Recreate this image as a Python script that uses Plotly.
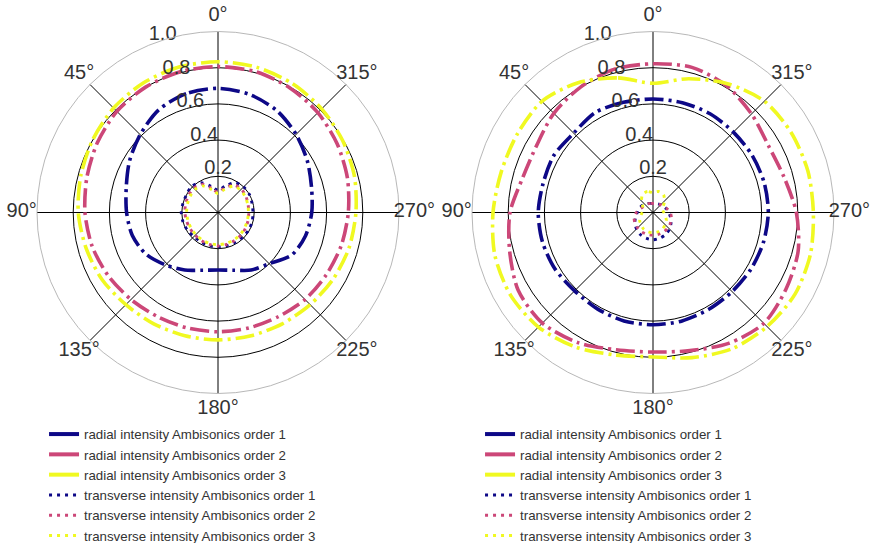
import plotly.graph_objects as go

# angles (deg) measured counter-clockwise from the top
angles = [0, 15, 30, 45, 60, 75, 90, 105, 120, 135, 150, 165,
          180, 195, 210, 225, 240, 255, 270, 285, 300, 315, 330, 345]

# ---- left panel ----
left_radial_o1 = [0.686, 0.68, 0.655, 0.608, 0.565, 0.525, 0.505, 0.49, 0.46, 0.41, 0.367, 0.33,
                  0.318, 0.33, 0.367, 0.40, 0.47, 0.50, 0.518, 0.535, 0.57, 0.61, 0.65, 0.675]
left_radial_o2 = [0.806, 0.805, 0.80, 0.79, 0.77, 0.75, 0.735, 0.72, 0.70, 0.68, 0.665, 0.66,
                  0.659, 0.66, 0.665, 0.68, 0.69, 0.705, 0.72, 0.74, 0.76, 0.78, 0.795, 0.805]
left_radial_o3 = [0.833, 0.832, 0.826, 0.816, 0.80, 0.785, 0.772, 0.755, 0.74, 0.72, 0.71, 0.705,
                  0.704, 0.705, 0.71, 0.72, 0.735, 0.75, 0.762, 0.78, 0.795, 0.81, 0.822, 0.83]
left_trans_o1 = [0.123, 0.15, 0.19, 0.205, 0.20, 0.20, 0.203, 0.20, 0.195, 0.188, 0.188, 0.19,
                 0.19, 0.19, 0.19, 0.193, 0.195, 0.195, 0.193, 0.195, 0.20, 0.20, 0.19, 0.15]
left_trans_o2 = [0.112, 0.14, 0.18, 0.19, 0.188, 0.185, 0.183, 0.18, 0.178, 0.178, 0.18, 0.183,
                 0.185, 0.183, 0.18, 0.178, 0.175, 0.172, 0.17, 0.172, 0.178, 0.182, 0.175, 0.14]
left_trans_o3 = [0.105, 0.13, 0.17, 0.18, 0.178, 0.175, 0.173, 0.172, 0.172, 0.173, 0.175, 0.177,
                 0.178, 0.177, 0.175, 0.173, 0.17, 0.168, 0.168, 0.17, 0.174, 0.176, 0.168, 0.13]

# ---- right panel ----
right_radial_o1 = [0.627, 0.63, 0.638, 0.62, 0.632, 0.628, 0.634, 0.632, 0.625, 0.612, 0.615, 0.62,
                   0.62, 0.62, 0.617, 0.618, 0.625, 0.632, 0.637, 0.636, 0.632, 0.628, 0.63, 0.628]
right_radial_o2 = [0.822, 0.82, 0.80, 0.775, 0.742, 0.745, 0.79, 0.82, 0.86, 0.864, 0.83, 0.785,
                   0.771, 0.79, 0.835, 0.866, 0.848, 0.83, 0.792, 0.75, 0.737, 0.77, 0.81, 0.83]
right_radial_o3 = [0.714, 0.77, 0.828, 0.868, 0.866, 0.868, 0.884, 0.905, 0.91, 0.895, 0.858, 0.815,
                   0.798, 0.83, 0.87, 0.891, 0.905, 0.90, 0.886, 0.886, 0.882, 0.87, 0.822, 0.765]
right_trans_o1 = [0.05, 0.052, 0.057, 0.064, 0.073, 0.08, 0.087, 0.10, 0.115, 0.129, 0.14, 0.147,
                  0.151, 0.147, 0.14, 0.129, 0.115, 0.10, 0.087, 0.077, 0.068, 0.06, 0.055, 0.051]
right_trans_o2 = [0.05, 0.052, 0.055, 0.058, 0.063, 0.075, 0.092, 0.108, 0.115, 0.12, 0.124, 0.125,
                  0.125, 0.124, 0.122, 0.118, 0.112, 0.105, 0.095, 0.08, 0.067, 0.06, 0.055, 0.052]
right_trans_o3 = [0.11, 0.12, 0.115, 0.09, 0.065, 0.055, 0.06, 0.07, 0.085, 0.095, 0.105, 0.11,
                  0.112, 0.11, 0.105, 0.095, 0.085, 0.07, 0.06, 0.055, 0.065, 0.09, 0.115, 0.12]

series_names = ["radial intensity Ambisonics order 1", "radial intensity Ambisonics order 2",
                "radial intensity Ambisonics order 3", "transverse intensity Ambisonics order 1",
                "transverse intensity Ambisonics order 2", "transverse intensity Ambisonics order 3"]
colors = ["#0d0887", "#cc4778", "#f0f921"]

angle_ticks = [0, 45, 90, 135, 180, 225, 270, 315]
angle_labels = ["0°", "45°", "90°", "135°", "180°", "225°", "270°", "315°"]
radial_ticks = [0.2, 0.4, 0.6, 0.8, 1.0]
radial_labels = ["0.2", "0.4", "0.6", "0.8", "1.0"]

# label placement (style constants)
ANGLE_LABEL_R = 1.085      # angular labels just outside the rim
RADIAL_LABEL_THETA = 22.5  # radial labels drawn along this direction
LABEL_RANGE = 1.1          # radial extent of the (invisible) label layer

DASHDOT = "19px,5px,3px,5px"
DOT = "3px,5px"
TXT = "#333333"
FONT = "Liberation Sans, Arial, sans-serif"

# panel geometry in pixels (figure 872 x 543)
W, H = 872, 543
PANEL_CX = [218, 653]
PANEL_CY = 212.5
RIM = 181

fig = go.Figure()

def close(v):
    return list(v) + [v[0]]

panels = [
    ("polar", "polar3", "legend", [left_radial_o1, left_radial_o2, left_radial_o3,
                                   left_trans_o1, left_trans_o2, left_trans_o3]),
    ("polar2", "polar4", "legend2", [right_radial_o1, right_radial_o2, right_radial_o3,
                                     right_trans_o1, right_trans_o2, right_trans_o3]),
]

th = close(angles)
for subplot, labsub, leg, data in panels:
    for i, vals in enumerate(data):
        col = colors[i % 3]
        radial = i < 3
        fig.add_trace(go.Scatterpolar(
            r=close(vals), theta=th, mode="lines", subplot=subplot,
            line=dict(color=col, width=3.6 if radial else 2.9,
                      dash=DASHDOT if radial else DOT, shape="spline", smoothing=0.8),
            showlegend=False, hoverinfo="skip"))
    # radial tick labels
    fig.add_trace(go.Scatterpolar(
        r=radial_ticks, theta=[RADIAL_LABEL_THETA] * len(radial_ticks), text=radial_labels,
        mode="text", textposition="top right", subplot=subplot, cliponaxis=False,
        textfont=dict(size=20, color=TXT, family=FONT), showlegend=False, hoverinfo="skip"))
    # angular tick labels (centered outside the rim, on an overlaid label layer)
    fig.add_trace(go.Scatterpolar(
        r=[ANGLE_LABEL_R] * len(angle_ticks), theta=angle_ticks, text=angle_labels,
        mode="text", textposition="middle center", subplot=labsub, cliponaxis=False,
        textfont=dict(size=20, color=TXT, family=FONT), showlegend=False, hoverinfo="skip"))
    # legend entries (solid for radial, dotted for transverse)
    for i, name in enumerate(series_names):
        col = colors[i % 3]
        radial = i < 3
        fig.add_trace(go.Scatterpolar(
            r=[None], theta=[None], mode="lines", subplot=subplot, name=name,
            legend=leg,
            line=dict(color=col, width=4 if radial else 3, dash="solid" if radial else DOT)))

def domain_for(cx, half):
    return dict(x=[(cx - half) / W, (cx + half) / W],
                y=[1 - (PANEL_CY + half) / H, 1 - (PANEL_CY - half) / H])

def polar_layout(cx):
    return dict(
        domain=domain_for(cx, RIM),
        bgcolor="white",
        angularaxis=dict(rotation=90, direction="counterclockwise",
                         tickmode="array", tickvals=angle_ticks,
                         showticklabels=False,
                         showgrid=True, gridcolor="black", gridwidth=1,
                         showline=True, linecolor="#b8b8b8", linewidth=1, ticks=""),
        radialaxis=dict(range=[0, 1.0], tickmode="array", tickvals=radial_ticks,
                        showticklabels=False,
                        showgrid=True, gridcolor="black",
                        gridwidth=1, showline=False, ticks=""),
    )

def label_layer(cx):
    return dict(
        domain=domain_for(cx, RIM * LABEL_RANGE),
        bgcolor="rgba(0,0,0,0)",
        angularaxis=dict(rotation=90, direction="counterclockwise", visible=False),
        radialaxis=dict(range=[0, LABEL_RANGE], visible=False),
    )

leg_common = dict(font=dict(size=13.3, color=TXT, family=FONT),
                  bgcolor="rgba(0,0,0,0)", borderwidth=0, xanchor="left", yanchor="top",
                  orientation="v")

fig.update_layout(
    width=W, height=H,
    margin=dict(l=0, r=0, t=0, b=0, autoexpand=False),
    paper_bgcolor="white",
    polar=polar_layout(PANEL_CX[0]),
    polar2=polar_layout(PANEL_CX[1]),
    polar3=label_layer(PANEL_CX[0]),
    polar4=label_layer(PANEL_CX[1]),
    legend=dict(x=0.0505, y=0.2285, **leg_common),
    legend2=dict(x=0.5505, y=0.2285, **leg_common),
)

fig.write_html("out.html", config={"displayModeBar": False},
               post_script="document.body.style.margin='0';document.body.style.overflow='hidden';")
